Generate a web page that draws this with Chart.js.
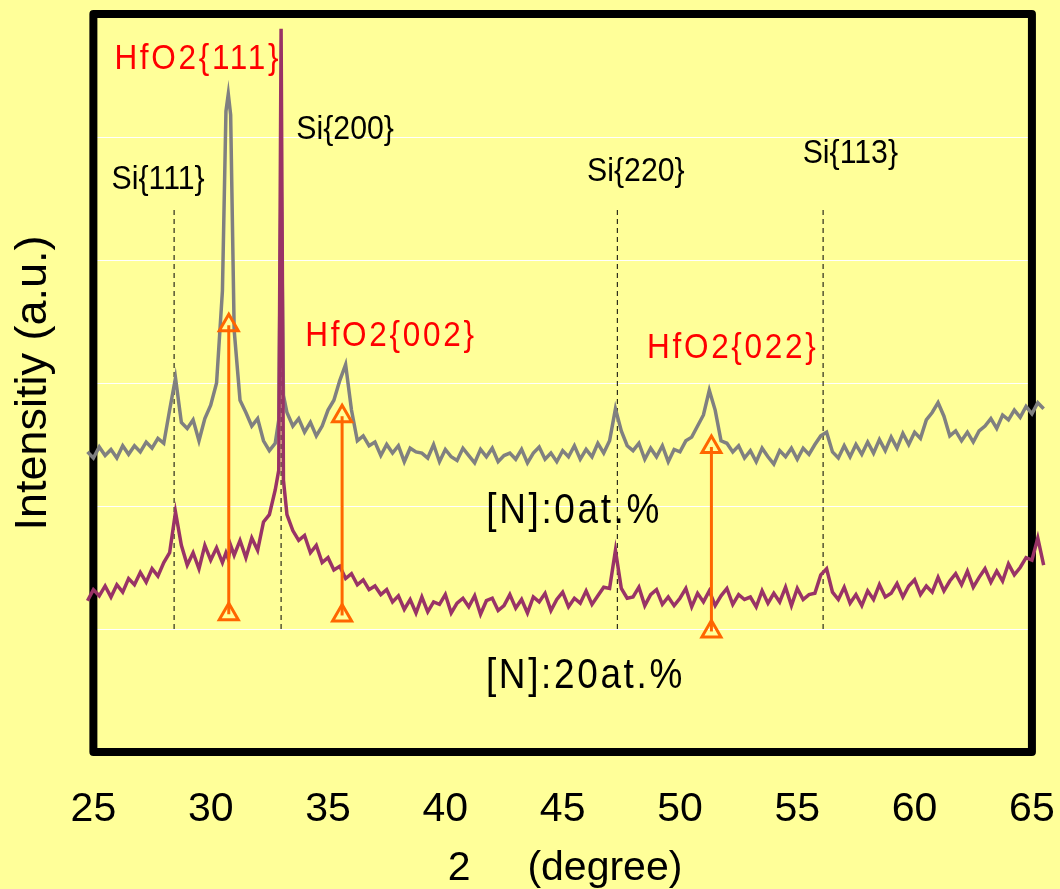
<!DOCTYPE html>
<html>
<head>
<meta charset="utf-8">
<script src="https://cdn.jsdelivr.net/npm/chart.js@4/dist/chart.umd.min.js"></script>
<style>
  html, body { margin: 0; padding: 0; background: #FFFF99; }
  #c { display: block; }
</style>
</head>
<body>
<canvas id="c" width="1060" height="889"></canvas>
<script>
// ---- data (2θ in degrees, intensity in arbitrary units) ----
const angles = [
  24.75,
  25, 25.25, 25.5, 25.75,
  26, 26.25, 26.5, 26.75,
  27, 27.25, 27.5, 27.75,
  28, 28.25, 28.5, 28.75,
  29, 29.25, 29.5, 29.75,
  30, 30.25, 30.5, 30.65, 30.75, 30.85,
  31, 31.25, 31.5, 31.75,
  32, 32.25, 32.5, 32.75, 32.9,
  33, 33.1, 33.25, 33.5, 33.75,
  34, 34.25, 34.5, 34.75,
  35, 35.25, 35.5, 35.75,
  36, 36.25, 36.5, 36.75,
  37, 37.25, 37.5, 37.75,
  38, 38.25, 38.5, 38.75,
  39, 39.25, 39.5, 39.75,
  40, 40.25, 40.5, 40.75,
  41, 41.25, 41.5, 41.75,
  42, 42.25, 42.5, 42.75,
  43, 43.25, 43.5, 43.75,
  44, 44.25, 44.5, 44.75,
  45, 45.25, 45.5, 45.75,
  46, 46.25, 46.5, 46.75,
  47, 47.25, 47.5, 47.75,
  48, 48.25, 48.5, 48.75,
  49, 49.25, 49.5, 49.75,
  50, 50.25, 50.5, 50.75,
  51, 51.25, 51.5, 51.75,
  52, 52.25, 52.5, 52.75,
  53, 53.25, 53.5, 53.75,
  54, 54.25, 54.5, 54.75,
  55, 55.25, 55.5, 55.75,
  56, 56.25, 56.5, 56.75,
  57, 57.25, 57.5, 57.75,
  58, 58.25, 58.5, 58.75,
  59, 59.25, 59.5, 59.75,
  60, 60.25, 60.5, 60.75,
  61, 61.25, 61.5, 61.75,
  62, 62.25, 62.5, 62.75,
  63, 63.25, 63.5, 63.75,
  64, 64.25, 64.5, 64.75,
  65, 65.25, 65.5
];

// [N]:0at.%  (grey curve)
const grayCounts = [
  244,
  239, 248, 241, 246,
  239, 249, 242, 249,
  244, 252, 247, 255,
  251, 278, 304, 268,
  263, 270, 253, 271,
  282, 300, 375, 521, 535, 518,
  343, 286, 276, 265,
  271, 253, 245, 251, 270,
  471, 290, 276, 265, 271,
  260, 268, 257, 265,
  278, 286, 302, 315,
  278, 253, 257, 249,
  252, 241, 250, 243,
  249, 236, 247, 244,
  243, 239, 250, 236,
  246, 240, 237, 247,
  241, 235, 246, 240,
  247, 236, 241, 243,
  238, 246, 235, 243,
  248, 238, 243, 236,
  245, 240, 249, 238,
  246, 240, 251, 243,
  253, 279, 261, 249,
  245, 251, 238, 247,
  240, 249, 236, 246,
  244, 253, 256, 265,
  274, 294, 278, 253,
  251, 244, 249, 239,
  245, 236, 247, 240,
  234, 245, 240, 247,
  238, 247, 242, 250,
  257, 260, 244, 239,
  249, 240, 250, 242,
  252, 243, 254, 245,
  256, 247, 259, 250,
  260, 255, 270, 276,
  284, 273, 257, 261,
  253, 260, 252, 261,
  265, 271, 263, 274,
  270, 278, 272, 281,
  275, 284, 279
];

// [N]:20at.%  (plum curve)
const magentaCounts = [
  123,
  132, 127, 135, 126,
  136, 130, 141, 136,
  146, 138, 149, 143,
  154, 162, 195, 168,
  152, 162, 149, 168,
  156, 166, 154, 162, 157, 168,
  160, 172, 158, 174,
  164, 187, 193, 213, 229,
  588, 221, 193, 180, 172,
  176, 162, 168, 154,
  158, 148, 151, 141,
  145, 136, 140, 132,
  135, 128, 132, 122,
  127, 116, 124, 113,
  126, 114, 122, 120,
  128, 113, 121, 125,
  118, 127, 112, 123,
  125, 115, 119, 128,
  117, 124, 113, 126,
  122, 129, 115, 124,
  130, 118, 125, 121,
  131, 120, 127, 134,
  133, 164, 133, 125,
  126, 134, 119, 128,
  132, 120, 126, 119,
  125, 133, 118, 129,
  122, 131, 119, 127,
  133, 120, 128, 124,
  126, 118, 131, 121,
  129, 122, 134, 119,
  133, 124, 128, 129,
  144, 149, 130, 124,
  134, 121, 128, 119,
  131, 124, 136, 126,
  129, 137, 126, 135,
  140, 128, 135, 130,
  142, 131, 139, 145,
  136, 147, 134, 142,
  149, 138, 147, 139,
  153, 144, 150, 158,
  156, 174, 152
];

const xTicks = [25, 30, 35, 40, 45, 50, 55, 60, 65];

// Si reference reflections (dashed markers)
const siAngles = [28.44, 33.0, 47.33, 56.1];
const siLabels = ['Si{111}', 'Si{200}', 'Si{220}', 'Si{113}'];
const siMarkerRange = [100, 442];

// HfO2 reflections (orange arrows)
const hfAngles = [30.77, 35.6, 51.34];
const hfLabels = ['HfO2{111}', 'HfO2{002}', 'HfO2{022}'];
const hfTop = [347, 273, 248];
const hfBottom = [112, 111, 98];

const sampleLabels = ['[N]:0at.%', '[N]:20at.%'];

// ---- text annotation placement (data coordinates) & styles ----
const textAnnotations = [
  { text: siLabels[0], x: 27.76, y: 458, color: '#000000', size: 34, sx: 0.89, ls: 0 },
  { text: siLabels[1], x: 35.73, y: 498, color: '#000000', size: 34, sx: 0.89, ls: 0 },
  { text: siLabels[2], x: 48.12, y: 464, color: '#000000', size: 34, sx: 0.89, ls: 0 },
  { text: siLabels[3], x: 57.26, y: 479, color: '#000000', size: 34, sx: 0.89, ls: 0 },
  { text: hfLabels[0], x: 29.45, y: 555, color: '#FF0000', size: 35, sx: 0.9, ls: 3 },
  { text: hfLabels[1], x: 37.68, y: 330, color: '#FF0000', size: 35, sx: 0.9, ls: 3 },
  { text: hfLabels[2], x: 52.25, y: 320, color: '#FF0000', size: 35, sx: 0.9, ls: 3 },
  { text: sampleLabels[0], x: 45.49, y: 186, color: '#000000', size: 42, sx: 0.88, ls: 3 },
  { text: sampleLabels[1], x: 45.97, y: 52, color: '#000000', size: 42, sx: 0.88, ls: 3 }
];

const FONT = "'Liberation Sans', Arial, sans-serif";
Chart.defaults.font.family = FONT;
Chart.defaults.color = '#000000';

const datasets = [];
datasets.push({
  label: sampleLabels[0],
  data: angles.map((a, i) => ({ x: a, y: grayCounts[i] })),
  borderColor: '#808080', borderWidth: 3.5, pointRadius: 0, tension: 0, order: 3
});
datasets.push({
  label: sampleLabels[1],
  data: angles.map((a, i) => ({ x: a, y: magentaCounts[i] })),
  borderColor: '#993366', borderWidth: 3.5, pointRadius: 0, tension: 0, order: 2
});
siAngles.forEach((a, i) => {
  datasets.push({
    label: siLabels[i],
    data: [{ x: a, y: siMarkerRange[0] }, { x: a, y: siMarkerRange[1] }],
    borderColor: '#000000', borderWidth: 1, borderDash: [5, 4], pointRadius: 0, order: 4
  });
});
hfAngles.forEach((a, i) => {
  datasets.push({
    label: hfLabels[i],
    data: [{ x: a, y: hfBottom[i] }, { x: a, y: hfTop[i] }],
    borderColor: '#FF6600', borderWidth: 3,
    pointStyle: 'triangle', pointRadius: 11, pointBorderWidth: 3,
    pointBorderColor: '#FF6600', pointBackgroundColor: 'rgba(0,0,0,0)', order: 1
  });
});

const bgPlugin = {
  id: 'bg',
  beforeDraw(chart) {
    const ctx = chart.ctx;
    ctx.save();
    ctx.fillStyle = '#FFFF99';
    ctx.fillRect(0, 0, chart.width, chart.height);
    ctx.restore();
  }
};

// white gridlines limited to the framed plot box, then the thick black frame
const framePlugin = {
  id: 'frame',
  beforeDatasetsDraw(chart) {
    const { ctx, scales: { x, y } } = chart;
    const l = x.getPixelForValue(xTicks[0]);
    const r = x.getPixelForValue(xTicks[xTicks.length - 1]);
    const t = y.getPixelForValue(y.max);
    const b = y.getPixelForValue(y.min);
    ctx.save();
    ctx.fillStyle = '#FFFFFF';
    y.ticks.forEach(tk => {
      if (tk.value <= y.min || tk.value >= y.max) return;
      const py = Math.round(y.getPixelForValue(tk.value));
      ctx.fillRect(Math.round(l), py, Math.round(r - l), 1);
    });
    ctx.strokeStyle = '#000000';
    ctx.lineWidth = 8;
    ctx.lineJoin = 'round';
    ctx.strokeRect(l, t, r - l, b - t);
    ctx.restore();
  }
};

const textPlugin = {
  id: 'texts',
  afterDatasetsDraw(chart) {
    const { ctx, scales: { x, y } } = chart;
    textAnnotations.forEach(t => {
      ctx.save();
      ctx.translate(x.getPixelForValue(t.x), y.getPixelForValue(t.y));
      ctx.scale(t.sx, 1);
      ctx.font = t.size + 'px ' + FONT;
      if ('letterSpacing' in ctx) ctx.letterSpacing = t.ls + 'px';
      ctx.fillStyle = t.color;
      ctx.textAlign = 'center';
      ctx.textBaseline = 'alphabetic';
      ctx.fillText(t.text, 0, 0);
      ctx.restore();
    });
  }
};

new Chart(document.getElementById('c'), {
  type: 'line',
  data: { datasets },
  options: {
    responsive: false,
    devicePixelRatio: 1,
    animation: false,
    events: [],
    layout: { padding: { left: 3, top: 13, right: 10, bottom: 0 } },
    plugins: { legend: { display: false }, tooltip: { enabled: false } },
    scales: {
      x: {
        type: 'linear',
        min: 24.6,
        max: 65.6,
        afterBuildTicks(scale) { scale.ticks = xTicks.map(v => ({ value: v })); },
        grid: { display: false, drawTicks: false },
        border: { display: false },
        ticks: {
          autoSkip: false, maxRotation: 0, padding: 0,
          color: '#000000', font: { size: 41, lineHeight: '116px' }
        },
        title: {
          display: true, text: '2     (degree)', color: '#000000',
          font: { size: 41, lineHeight: 1.0 },
          padding: { top: -20, bottom: 0 }
        }
      },
      y: {
        type: 'linear',
        min: 0,
        max: 600,
        ticks: { display: false, stepSize: 100 },
        grid: { display: false, drawTicks: false },
        border: { display: false },
        title: {
          display: true, text: 'Intensitiy (a.u.)', color: '#000000',
          font: { size: 45 },
          padding: { top: 4, bottom: 23 }
        }
      }
    }
  },
  plugins: [bgPlugin, framePlugin, textPlugin]
});
</script>
</body>
</html>
